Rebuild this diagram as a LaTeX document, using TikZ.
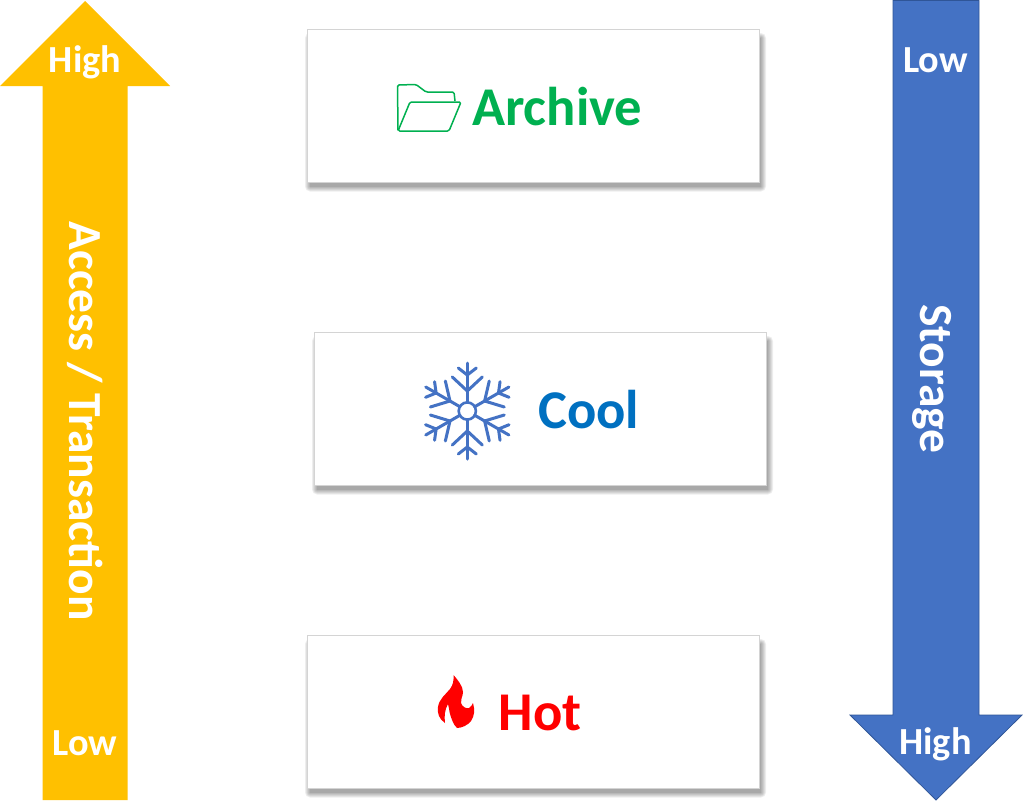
\documentclass[tikz,border=0pt]{standalone}
\usepackage{fontspec}
\setmainfont{Carlito}
\definecolor{ayellow}{HTML}{FFC000}
\definecolor{ablue}{HTML}{4472C4}
\definecolor{aborder}{HTML}{2F5597}
\definecolor{agreen}{HTML}{00B050}
\definecolor{acool}{HTML}{0070C0}
\definecolor{aframe}{HTML}{D4D4D4}
\newcommand{\fsz}[1]{\fontsize{#1}{#1}\selectfont\bfseries}
\tikzset{
  x=1pt,y=-1pt,
  card/.style={draw=aframe,line width=1.8pt,fill=white,minimum width=452pt,minimum height=153pt,inner sep=0pt},
  arrowlabel/.style={text=white,font=\fsz{38.3},inner sep=0pt},
  sidelabel/.style={text=white,font=\fsz{47.5},inner sep=0pt,rotate=-90},
  cardlabel/.style={font=\fsz{54.6},inner sep=0pt,anchor=base west},
  snowline/.style={draw=ablue,line width=3pt,line cap=round},
  folderline/.style={draw=agreen,line width=1.5pt,line join=round},
}
\newcommand{\cardshadow}[2]{%
  \foreach \g in {5,4,3,2,1,0}{
    \fill[black,opacity=.065,rounded corners=\g pt] (#1+3-\g,#2+9-\g) rectangle (#1+453+1+\g,#2+154+3.5+\g);
  }
}
\begin{document}
\begin{tikzpicture}
\useasboundingbox (0,0) rectangle (1024,803);
\fill[white] (0,0) rectangle (1024,803);
% side arrows
\fill[ayellow] (85,1) -- (170,86) -- (127.5,86) -- (127.5,800) -- (42.5,800) -- (42.5,86) -- (0,86) -- cycle;
\draw[aborder,line width=.8pt,fill=ablue] (893,.5) -- (979,.5) -- (979,715) -- (1022,715) -- (936,800) -- (850,715) -- (893,715) -- cycle;
\node[arrowlabel] (ahigh) at (85,62) {High};
\node[arrowlabel] (alow) at (85,743) {Low};
\node[sidelabel] (alabel) at (85,421) {Access / Transaction};
\node[arrowlabel] (slow) at (935.5,60.5) {Low};
\node[arrowlabel] (shigh) at (935.5,744) {High};
\node[sidelabel] (slabel) at (932,379) {Storage};
% cards
\cardshadow{307}{29}
\cardshadow{314}{332}
\cardshadow{307}{635}
\node[card] (archive) at (533.5,106) {};
\node[card] (cool) at (540.5,409) {};
\node[card] (hot) at (533.5,712) {};
\node[cardlabel,text=agreen] (archivet) at (472,125) {Archive};
\node[cardlabel,text=acool] (coolt) at (538,428) {Cool};
\node[cardlabel,text=red] (hott) at (498.5,730) {Hot};
% folder
\draw[folderline,rounded corners=1.5pt] (398,130.5) -- (397.5,85) -- (416,84.5) -- (426,92) -- (454,92) -- (455,101);
\draw[folderline,rounded corners=1.5pt] (398,131) -- (410,102) -- (461,102) -- (449,131) -- cycle;
% snowflake
\begin{scope}[shift={(467.3,411)}]
\draw[draw=ablue,line width=2.6pt] (0,0) circle (8.6);
\foreach \a in {90,150,210,270,330,30}{
  \begin{scope}[rotate=\a]
    \draw[snowline] (8.6,0) -- (48,0);
    \draw[snowline] (43,-9) -- (36,0) -- (43,9);
    \draw[snowline] (34,-15) -- (20,0) -- (34,15);
  \end{scope}
}
\end{scope}
% flame
\fill[red] (453.5,675) .. controls (457,679) and (463,686) .. (463,692)
 .. controls (463,697) and (460,699) .. (461,703)
 .. controls (462,707) and (467,709) .. (469,708)
 .. controls (471,707) and (472,705) .. (473,703)
 .. controls (475,710) and (474.5,716) .. (471,721)
 .. controls (468,725) and (462,728) .. (457,728)
 .. controls (453,724) and (452,720) .. (450,714)
 .. controls (449,710) and (449,707) .. (448,704)
 .. controls (445,709) and (444,716) .. (445,723)
 .. controls (439,719) and (437,713) .. (438,707)
 .. controls (439,699) and (446,694) .. (450,689)
 .. controls (453,685) and (454,680) .. (453.5,675) -- cycle;
\end{tikzpicture}
\end{document}
